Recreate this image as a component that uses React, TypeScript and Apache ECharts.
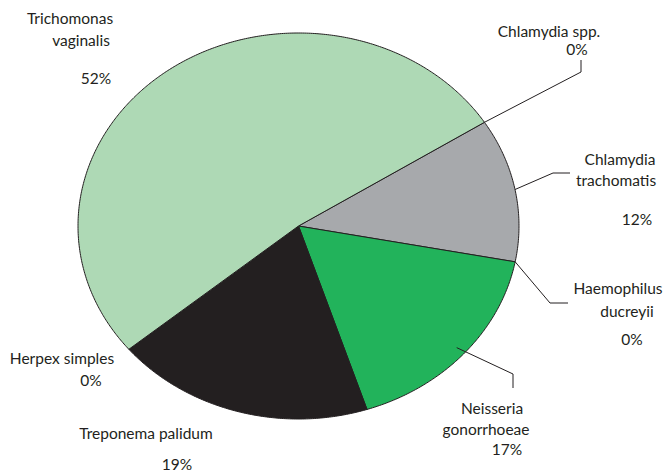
import React, { useEffect, useRef } from "react";
import * as echarts from "echarts";

// Data (clockwise from the top-right boundary)
const categories: string[] = [
  "Chlamydia spp.",
  "Chlamydia\ntrachomatis",
  "Haemophilus\nducreyii",
  "Neisseria\ngonorrhoeae",
  "Treponema palidum",
  "Herpex simples",
  "Trichomonas\nvaginalis",
];
const values: number[] = [0, 12, 0, 17, 19, 0, 52];
const colors: string[] = ["#a7a9ac", "#a7a9ac", "#22b35b", "#22b35b", "#231f20", "#231f20", "#aed9b5"];

// Layout (positions only)
const CX = 298.5;
const CY = 226;
const RX = 220.5;
const RY = 193;
const START_DEG = 32.5;
const TEXT_COLOR = "#231f20";
const FONT = "15.5px Lato";

// centres of each text line: name lines then percentage line
const labelPos: number[][][] = [
  [[549, 31], [577, 49]],
  [[620, 159], [616, 180], [637, 219]],
  [[618, 288], [627, 311], [632, 339]],
  [[492, 408], [486, 429], [507, 449]],
  [[146, 433], [177, 464]],
  [[62, 358], [91, 380]],
  [[70, 18], [81, 40], [96, 78]],
];
const leaders: ({ r: number; pts: number[][] } | null)[] = [
  { r: 1.0, pts: [[581, 72], [581, 60]] },
  { r: 1.0, pts: [[553, 173], [570, 173]] },
  { r: 1.0, pts: [[550, 303], [568, 303]] },
  { r: 0.955, pts: [[513, 374], [513, 388]] },
  null,
  null,
  null,
];

const total = values.reduce((a, b) => a + b, 0);
const startAngles: number[] = [];
{
  let cum = 0;
  for (const v of values) {
    startAngles.push(START_DEG - (cum / total) * 360);
    cum += v;
  }
}

function pt(deg: number, f = 1): number[] {
  const a = (deg * Math.PI) / 180;
  return [CX + RX * f * Math.cos(a), CY - RY * f * Math.sin(a)];
}

export default function App() {
  const ref = useRef<HTMLDivElement>(null);
  useEffect(() => {
    if (!ref.current) return;
    const chart = echarts.init(ref.current, undefined, { renderer: "svg" });
    const data = values.map((v, i) => ({ name: categories[i], value: v }));
    chart.setOption({
      animation: false,
      backgroundColor: "#ffffff",
      series: [
        {
          type: "custom",
          coordinateSystem: "none",
          data,
          renderItem: (params: any, api: any) => {
            const i = params.dataIndex;
            const v = api.value(0);
            if (!v) return { type: "group", children: [] };
            const a0 = startAngles[i];
            const a1 = a0 - (v / total) * 360;
            const pts: number[][] = [[CX, CY]];
            const steps = Math.max(2, Math.ceil(Math.abs(a0 - a1) * 2));
            for (let k = 0; k <= steps; k++) {
              pts.push(pt(a0 + ((a1 - a0) * k) / steps));
            }
            return {
              type: "polygon",
              shape: { points: pts },
              style: { fill: colors[i], stroke: "#231f20", lineWidth: 1, lineJoin: "round" },
            };
          },
        },
        {
          type: "custom",
          coordinateSystem: "none",
          data,
          z: 5,
          renderItem: (params: any, api: any) => {
            const i = params.dataIndex;
            const v = api.value(0);
            const children: any[] = [];
            const ld = leaders[i];
            if (ld) {
              const mid = startAngles[i] - (v / total) * 180;
              const p0 = pt(mid, ld.r);
              children.push({
                type: "polyline",
                shape: { points: [p0, ...ld.pts] },
                style: { stroke: "#231f20", lineWidth: 1, fill: null },
              });
            }
            const lines = [...categories[i].split("\n"), Math.round((v / total) * 100) + "%"];
            lines.forEach((t, k) => {
              const p = labelPos[i][k];
              children.push({
                type: "text",
                x: p[0],
                y: p[1],
                style: {
                  text: t,
                  fill: TEXT_COLOR,
                  font: FONT,
                  align: "center",
                  verticalAlign: "middle",
                  textAlign: "center",
                  textVerticalAlign: "middle",
                },
              });
            });
            return { type: "group", children };
          },
        },
      ],
    });
    return () => chart.dispose();
  }, []);
  return (
    <div
      ref={ref}
      style={{ position: "fixed", left: 0, top: 0, width: 665, height: 473, background: "#fff" }}
    />
  );
}
